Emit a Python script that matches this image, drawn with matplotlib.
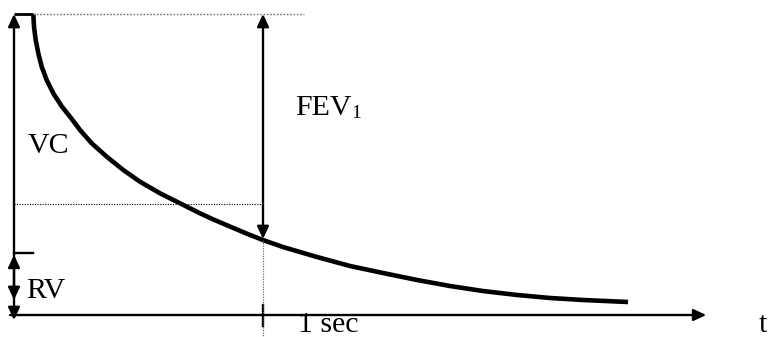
import matplotlib
matplotlib.use("Agg")
import matplotlib.pyplot as plt

# ---- data (time in s, volume in L) ----
curve_t = [0.0775, 0.0803, 0.0871, 0.0976, 0.1112, 0.1313, 0.1578, 0.1916,
           0.2249, 0.2651, 0.3120, 0.3723, 0.4390, 0.5060, 0.5863, 0.6667,
           0.7470, 0.8004, 0.9478, 1.0000, 1.0803, 1.2169, 1.3494, 1.4819,
           1.6185, 1.7510, 1.8835, 2.0201, 2.1526, 2.2851, 2.4659]
curve_v = [6.000, 5.747, 5.482, 5.217, 4.950, 4.684, 4.419, 4.160,
           3.953, 3.688, 3.423, 3.156, 2.890, 2.657, 2.426, 2.227,
           2.027, 1.904, 1.595, 1.495, 1.355, 1.156, 0.977, 0.837,
           0.698, 0.578, 0.478, 0.399, 0.339, 0.299, 0.259]
TLC = 6.00          # top of vital capacity
RV_LEVEL = 1.24     # residual volume tick
FEV1_LEVEL = 1.495  # volume at 1 s
MID_LEVEL = 2.21    # dotted reference level
T_ONE = 1.0
T_END_AXIS = 2.78
labels = {"vc": "VC", "rv": "RV", "fev": "FEV", "fev_sub": "1", "sec": "1 sec", "t": "t"}

W, H = 773, 337
fig = plt.figure(figsize=(W / 100, H / 100), dpi=100)
ax = fig.add_axes([0, 0, 1, 1])
px_t = 249.0
px_v = 301.0 / 6.0
ax.set_xlim(-14 / px_t, (W - 14) / px_t)
ax.set_ylim(-(H - 315) / px_v, 315 / px_v)
ax.axis("off")

serif = ["Liberation Serif", "DejaVu Serif"]
FS = 21.5
lw_axis = 1.7
HEAD = "head_length=0.75,head_width=0.35"

def arrow(x0, y0, x1, y1, style="-|>", lw=lw_axis):
    ax.annotate("", xy=(x1, y1), xytext=(x0, y0),
                arrowprops=dict(arrowstyle=f"{style},{HEAD}",
                                color="black", lw=lw, shrinkA=0, shrinkB=0,
                                mutation_scale=10))

# curve
ax.plot(curve_t, curve_v, color="black", lw=3.3, solid_capstyle="butt",
        solid_joinstyle="round")
ax.plot([0, curve_t[0]], [TLC, TLC], color="black", lw=2.0, solid_capstyle="butt")

# vertical axis: VC double arrow + RV double arrow
arrow(0, -0.1, 0, TLC, style="<|-|>")
arrow(0, 0.30, 0, RV_LEVEL - 0.04, style="<|-|>")
ax.plot([0, 0.076], [RV_LEVEL, RV_LEVEL], color="black", lw=lw_axis)

# time axis
arrow(-0.016, 0, T_END_AXIS, 0)

# FEV1 double arrow
arrow(T_ONE, FEV1_LEVEL + 0.02, T_ONE, TLC, style="<|-|>")

# tick at 1 s
ax.plot([T_ONE, T_ONE], [0.2, -0.22], color="black", lw=lw_axis)

# dotted guides
ax.plot([curve_t[0], 1.165], [TLC, TLC], color="#777777", lw=1.0,
        linestyle=(0, (1.2, 1.2)))
ax.plot([0, T_ONE], [MID_LEVEL, MID_LEVEL], color="black", lw=0.8,
        linestyle=(0, (1, 1.3)))
ax.plot([T_ONE, T_ONE], [FEV1_LEVEL, -0.45], color="#555555", lw=0.8,
        linestyle=(0, (1, 1.3)))

# labels
ax.text(0.056, 3.23, labels["vc"], fontsize=FS, family=serif, va="baseline", ha="left")
ax.text(0.048, 0.34, labels["rv"], fontsize=FS, family=serif, va="baseline", ha="left")
ax.text(1.128, 3.99, labels["fev"], fontsize=FS, family=serif, va="baseline", ha="left")
ax.text(1.355, 3.93, labels["fev_sub"], fontsize=14, family=serif, va="baseline", ha="left")
ax.text(1.141, -0.33, labels["sec"], fontsize=FS, family=serif, va="baseline", ha="left")
ax.text(2.99, -0.34, labels["t"], fontsize=FS, family=serif, va="baseline", ha="left")

fig.savefig("out.png", dpi=100)
